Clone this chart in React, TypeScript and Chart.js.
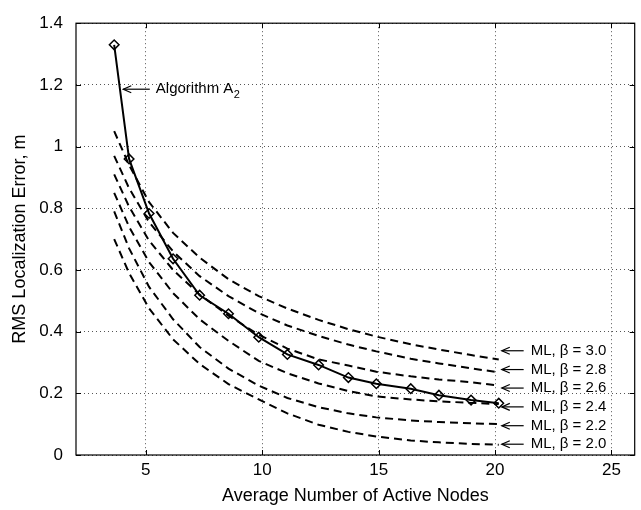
import React, { useEffect, useRef } from 'react';
import { Chart, registerables } from 'chart.js';

Chart.register(...registerables);

const FONT = "'Liberation Sans', Arial, Helvetica, sans-serif";

// x values: average number of active nodes
const activeNodes = [3.64, 4.28, 5.14, 6.17, 7.31, 8.55, 9.85, 11.08, 12.42, 13.7, 14.9, 16.38, 17.59, 18.97, 20.16];
// Algorithm A2 (solid with diamonds)
const algorithmA2 = [1.33, 0.96, 0.783, 0.636, 0.518, 0.458, 0.382, 0.326, 0.292, 0.251, 0.231, 0.215, 0.194, 0.178, 0.168];
// ML curves (dashed)
const mlBeta30 = [1.05, 0.94, 0.82, 0.72, 0.64, 0.57, 0.515, 0.475, 0.438, 0.408, 0.384, 0.359, 0.342, 0.324, 0.31];
const mlBeta28 = [0.97, 0.865, 0.755, 0.66, 0.58, 0.515, 0.46, 0.42, 0.386, 0.358, 0.336, 0.312, 0.297, 0.281, 0.268];
const mlBeta26 = [0.91, 0.805, 0.695, 0.6, 0.52, 0.452, 0.39, 0.345, 0.31, 0.29, 0.27, 0.255, 0.245, 0.236, 0.225];
const mlBeta24 = [0.85, 0.74, 0.625, 0.525, 0.44, 0.37, 0.305, 0.265, 0.232, 0.207, 0.19, 0.18, 0.174, 0.169, 0.165];
const mlBeta22 = [0.79, 0.67, 0.545, 0.44, 0.35, 0.28, 0.225, 0.185, 0.155, 0.135, 0.122, 0.112, 0.107, 0.103, 0.1];
const mlBeta20 = [0.7, 0.59, 0.475, 0.375, 0.295, 0.23, 0.18, 0.135, 0.098, 0.075, 0.06, 0.047, 0.041, 0.036, 0.033];

const mlSeries = [mlBeta30, mlBeta28, mlBeta26, mlBeta24, mlBeta22, mlBeta20];
const mlBetaLabels = ['3.0', '2.8', '2.6', '2.4', '2.2', '2.0'];
const mlLabelY = [0.338, 0.277, 0.217, 0.156, 0.095, 0.035];

const xTicks = [5, 10, 15, 20, 25];
const yTicks = [0, 0.2, 0.4, 0.6, 0.8, 1.0, 1.2, 1.4];
const xRange = [2, 26];
const yRange = [0, 1.4];

// annotation anchors (data coordinates)
const algoArrow = { tipX: 4.03, tailX: 5.17, textX: 5.43, y: 1.186 };
const mlArrow = { tipX: 20.29, tailX: 21.23, textX: 21.53 };

function drawArrow(ctx: CanvasRenderingContext2D, x1: number, x2: number, y: number) {
  ctx.beginPath();
  ctx.moveTo(x2, y);
  ctx.lineTo(x1, y);
  ctx.stroke();
  ctx.beginPath();
  ctx.moveTo(x1 + 8, y - 3.5);
  ctx.lineTo(x1, y);
  ctx.lineTo(x1 + 8, y + 3.5);
  ctx.stroke();
}

const framePlugin = {
  id: 'frame',
  afterDatasetsDraw(chart: any) {
    const { ctx, chartArea } = chart;
    const xs = chart.scales.x;
    const ys = chart.scales.y;
    const { left, right, top, bottom } = chartArea;
    ctx.save();
    ctx.strokeStyle = '#000';
    ctx.lineWidth = 1.2;
    ctx.setLineDash([]);
    ctx.strokeRect(left, top, right - left, bottom - top);
    ctx.lineWidth = 1;
    const tl = 5;
    xTicks.forEach((v) => {
      const px = Math.round(xs.getPixelForValue(v)) + 0.5;
      ctx.beginPath();
      ctx.moveTo(px, bottom);
      ctx.lineTo(px, bottom - tl);
      ctx.moveTo(px, top);
      ctx.lineTo(px, top + tl);
      ctx.stroke();
    });
    yTicks.forEach((v) => {
      const py = Math.round(ys.getPixelForValue(v)) + 0.5;
      ctx.beginPath();
      ctx.moveTo(left, py);
      ctx.lineTo(left + tl, py);
      ctx.moveTo(right, py);
      ctx.lineTo(right - tl, py);
      ctx.stroke();
    });

    // annotations
    ctx.fillStyle = '#000';
    ctx.lineWidth = 1.2;
    ctx.textBaseline = 'middle';
    ctx.textAlign = 'left';
    ctx.font = `15px ${FONT}`;
    const ay = ys.getPixelForValue(algoArrow.y);
    drawArrow(ctx, xs.getPixelForValue(algoArrow.tipX), xs.getPixelForValue(algoArrow.tailX), ay);
    const tx = xs.getPixelForValue(algoArrow.textX);
    const main = 'Algorithm A';
    ctx.fillText(main, tx, ay);
    const w = ctx.measureText(main).width;
    ctx.font = `11px ${FONT}`;
    ctx.fillText('2', tx + w + 0.5, ay + 6);

    ctx.font = `15px ${FONT}`;
    mlBetaLabels.forEach((b, i) => {
      const py = ys.getPixelForValue(mlLabelY[i]);
      drawArrow(ctx, xs.getPixelForValue(mlArrow.tipX), xs.getPixelForValue(mlArrow.tailX), py);
      ctx.fillText(`ML, \u03B2 = ${b}`, xs.getPixelForValue(mlArrow.textX), py);
    });
    ctx.restore();
  },
};

export default function App() {
  const ref = useRef<HTMLCanvasElement>(null);
  useEffect(() => {
    const canvas = ref.current;
    if (!canvas) return;
    const dashed = mlSeries.map((arr, i) => ({
      label: `ML, β = ${mlBetaLabels[i]}`,
      data: activeNodes.map((x, j) => ({ x, y: arr[j] })),
      borderColor: '#000',
      borderWidth: 2,
      borderDash: [8, 5],
      pointRadius: 0,
      fill: false,
      tension: 0,
    }));
    const chart = new Chart(canvas, {
      type: 'line',
      data: {
        datasets: [
          ...dashed,
          {
            label: 'Algorithm A2',
            data: activeNodes.map((x, j) => ({ x, y: algorithmA2[j] })),
            borderColor: '#000',
            borderWidth: 2,
            pointStyle: 'rectRot',
            pointRadius: 4.8,
            pointBorderWidth: 1.5,
            pointBorderColor: '#000',
            pointBackgroundColor: 'rgba(255,255,255,0)',
            fill: false,
            tension: 0,
          },
        ],
      },
      options: {
        responsive: false,
        animation: false,
        devicePixelRatio: 1,
        layout: { padding: { left: 0, right: 4, top: 15, bottom: 0 } },
        plugins: { legend: { display: false }, tooltip: { enabled: false } },
        scales: {
          x: {
            type: 'linear',
            min: xRange[0],
            max: xRange[1],
            afterBuildTicks: (s: any) => {
              s.ticks = xTicks.map((v) => ({ value: v }));
            },
            afterFit: (s: any) => {
              s.height = 55;
            },
            grid: { color: '#555', lineWidth: 1, drawTicks: false },
            border: { display: false, dash: [1, 3] },
            ticks: {
              color: '#000',
              font: { family: FONT, size: 17 },
              padding: 5,
              maxRotation: 0,
              autoSkip: false,
              callback: (v: any) => String(v),
            },
            title: {
              display: true,
              text: 'Average Number of Active Nodes',
              color: '#000',
              font: { family: FONT, size: 18 },
              padding: { top: 0, bottom: 3 },
            },
          },
          y: {
            type: 'linear',
            min: yRange[0],
            max: yRange[1],
            afterBuildTicks: (s: any) => {
              s.ticks = yTicks.map((v) => ({ value: v }));
            },
            afterFit: (s: any) => {
              s.width = 76;
            },
            grid: { color: '#555', lineWidth: 1, drawTicks: false },
            border: { display: false, dash: [1, 3] },
            ticks: {
              color: '#000',
              font: { family: FONT, size: 17 },
              padding: 13,
              autoSkip: false,
              callback: (v: any) => String(Number(Number(v).toFixed(1))),
            },
            title: {
              display: true,
              text: 'RMS Localization Error, m',
              color: '#000',
              font: { family: FONT, size: 18 },
              padding: { top: 9, bottom: 0 },
            },
          },
        },
      },
      plugins: [framePlugin],
    } as any);
    return () => chart.destroy();
  }, []);
  return (
    <div style={{ position: 'fixed', left: 0, top: 0, width: 641, height: 510, background: '#fff' }}>
      <canvas ref={ref} width={641} height={510} style={{ display: 'block', width: 641, height: 510 }} />
    </div>
  );
}
